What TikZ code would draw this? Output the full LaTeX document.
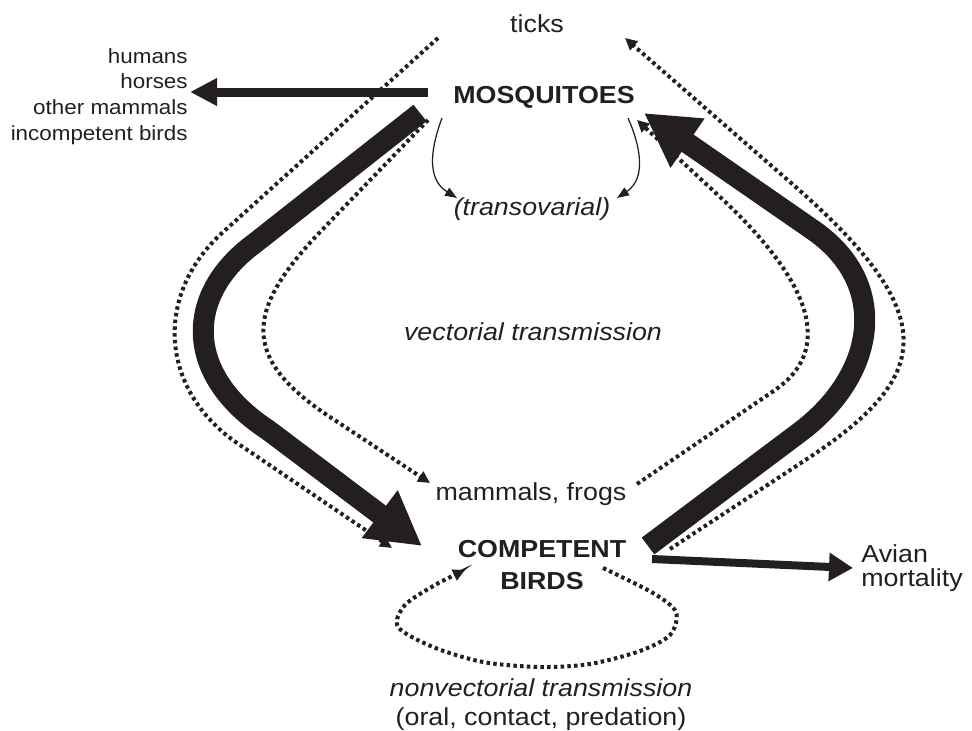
\documentclass[tikz,border=0pt]{standalone}
\usepackage{fontspec}
\setmainfont[FakeStretch=1.09]{Liberation Sans}
\usetikzlibrary{arrows.meta}
\definecolor{ink}{RGB}{35,31,32}
\tikzset{
  lbl/.style={inner sep=0pt,text=ink,font=\fontsize{14}{15}\selectfont},
  dotline/.style={draw=ink,line width=0.8mm,dash pattern=on 0.7mm off 0.65mm,-{Triangle[length=2.4mm,width=2.3mm]}},
  fatarrow/.style={draw=ink,line width=4.2mm,-{Triangle[length=10.6mm,width=11.2mm]}},
  thinarrow/.style={draw=ink,line width=0.25mm,-{Triangle[length=2.4mm,width=1.8mm]}}
}
\begin{document}
\begin{tikzpicture}[x=0.2mm,y=-0.2mm]
        \useasboundingbox (0,0) rectangle (972,731);
        \node[lbl,anchor=base] (ticks) at (537,32) {ticks};
        \node[lbl,anchor=base,font=\fontsize{14}{15}\selectfont\bfseries] (mosq) at (544,103) {MOSQUITOES};
        \node[lbl,anchor=east,align=right,font=\fontsize{11.7}{14.6}\selectfont] (hosts) at (188,96.5) {humans\\horses\\other mammals\\incompetent birds};
        \node[lbl,anchor=base,font=\fontsize{14}{15}\selectfont\itshape] (transov) at (532,215) {(transovarial)};
        \node[lbl,anchor=base,font=\fontsize{14}{15}\selectfont\itshape] (vector) at (533,340) {vectorial transmission};
        \node[lbl,anchor=base] (mamfrog) at (531,500) {mammals, frogs};
        \node[lbl,align=center,font=\fontsize{14}{18.2}\selectfont\bfseries] (birds) at (542,565.5) {COMPETENT\\BIRDS};
        \node[lbl,anchor=west,align=left,font=\fontsize{14}{13.7}\selectfont] (mortal) at (861,568.5) {Avian\\mortality};
        \node[lbl,align=center,font=\fontsize{14}{16.5}\selectfont] (nonvec) at (541,704.5) {\textit{nonvectorial transmission}\\(oral, contact, predation)};

        \coordinate (tk-l) at (438,38);  \coordinate (tk-r) at (625,38);
        \coordinate (mq-w) at (428,92);  \coordinate (hs-e) at (190,92);
        \coordinate (mq-sw) at (420,113); \coordinate (mq-se) at (644,113);
        \coordinate (mq-dl) at (428,120); \coordinate (mq-dr) at (637,120);
        \coordinate (mq-tl) at (442,118); \coordinate (mq-tr) at (628,118);
        \coordinate (tv-l) at (457,198); \coordinate (tv-r) at (617,198);
        \coordinate (mf-l) at (430,483); \coordinate (mf-r) at (637,484);
        \coordinate (bd-w) at (392,548); \coordinate (bd-nw) at (422,546);
        \coordinate (bd-ne) at (648,546); \coordinate (bd-e) at (670,549);
        \coordinate (bd-se) at (652,559); \coordinate (mt-w) at (853,568);
        \coordinate (bd-s) at (603,568); \coordinate (bd-sw) at (465,570);

        \draw[dotline] (tk-l) -- (222,233) .. controls (152,297) and (161,393) .. (240,445) -- (bd-w);
        \draw[dotline] (mq-dl) -- (322,230) .. controls (246,309) and (239,357) .. (330,417) -- (mf-l);
        \draw[dotline] (mf-r) -- (775,390) .. controls (833,350) and (814,284) .. (719,196) -- (mq-dr);
        \draw[dotline] (bd-e) -- (810,457) .. controls (935,374) and (941,313) .. (790,182) -- (tk-r);
        \draw[dotline] plot[smooth] coordinates {(bd-s) (653,593) (676,612) (670,635) (640,651) (590,664) (540,667) (483,662) (433,647) (398,627) (405,605) (435,585) (bd-sw)};

        \draw[fatarrow] (mq-sw) -- (255,243) .. controls (184,295) and (184,375) .. (268,430) -- (bd-nw);
        \draw[fatarrow] (bd-ne) -- (800,432) .. controls (876,375) and (891,284) .. (813,230) -- (mq-se);

        \draw[thinarrow] (mq-tl) .. controls (432,145) and (425,178) .. (tv-l);
        \draw[thinarrow] (mq-tr) .. controls (640,145) and (647,178) .. (tv-r);
        \draw[ink,line width=1.8mm,-{Triangle[length=5.4mm,width=5.2mm]}] (mq-w) -- (hs-e);
        \draw[ink,line width=1.6mm,-{Triangle[length=4.8mm,width=5.4mm]}] (bd-se) -- (mt-w);
      \end{tikzpicture}
\end{document}
